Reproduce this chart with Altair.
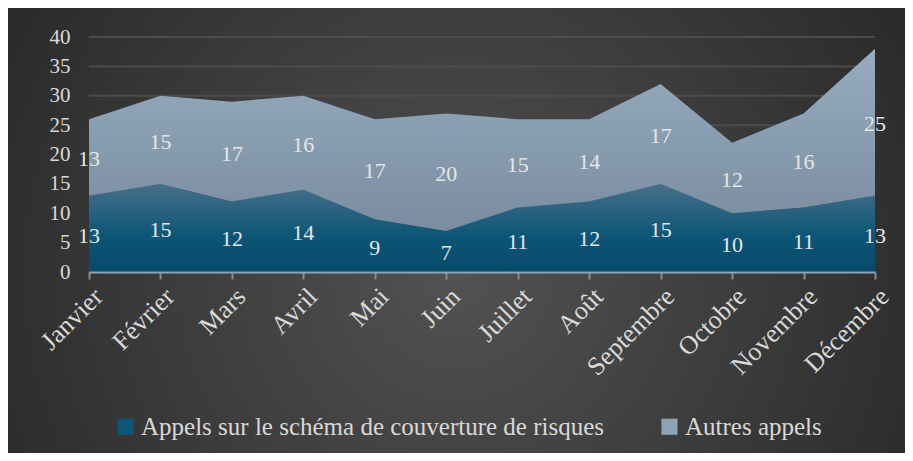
import altair as alt
import pandas as pd

months = ["Janvier", "Février", "Mars", "Avril", "Mai", "Juin", "Juillet",
          "Août", "Septembre", "Octobre", "Novembre", "Décembre"]
risques = [13, 15, 12, 14, 9, 7, 11, 12, 15, 10, 11, 13]
autres = [13, 15, 17, 16, 17, 20, 15, 14, 17, 12, 16, 25]
series = ["Appels sur le schéma de couverture de risques", "Autres appels"]
y_ticks = [0, 5, 10, 15, 20, 25, 30, 35, 40]

FONT = "Liberation Serif"
TXT = "#d9d9d9"
W, H = 786, 235
PAD = {"left": 81, "top": 29, "right": 30, "bottom": 181}

wide = pd.DataFrame({"mois": months, "risques": risques, "autres": autres})
long = pd.DataFrame({"serie": series})

xax = alt.Axis(title=None, labelAngle=-45, labelFontSize=26,
               labelColor=TXT, labelFont=FONT, labelPadding=4,
               labelOverlap=False,
               tickColor="#8c8c8c", tickSize=7, tickWidth=2,
               domainColor="#8fa6b9", domainWidth=2, grid=False,
               zindex=1)
yax = alt.Axis(title=None, values=y_ticks, grid=False,
               domain=False, ticks=False, labelFontSize=21,
               labelColor=TXT, labelFont=FONT,
               labelOverlap=False,
               labelPadding=19, zindex=1)
xscale = alt.Scale(padding=0)
yscale = alt.Scale(domain=[0, 40])


def X():
    return alt.X("mois:N", sort=months, scale=xscale, axis=xax)


bg = alt.Chart(alt.Data(values=[{}])).mark_rect(
    fill={"gradient": "radial", "x1": 0.5, "y1": 0.55, "r1": 0,
          "x2": 0.5, "y2": 0.55, "r2": 0.75,
          "stops": [{"offset": 0, "color": "#525252"},
                    {"offset": 1, "color": "#1e1e1e"}]}
).encode(x=alt.value(-PAD["left"]), x2=alt.value(W + PAD["right"]),
         y=alt.value(-PAD["top"]), y2=alt.value(H + PAD["bottom"]))

grid = alt.Chart(pd.DataFrame({"v": y_ticks[1:]})).mark_rule(
    color="#4c4c4c", strokeWidth=2
).encode(y=alt.Y("v:Q", scale=yscale, axis=yax),
         x=alt.value(0), x2=alt.value(W))

base = alt.Chart(wide)

area_r = base.mark_area(
    fill={"gradient": "linear", "x1": 0, "y1": 0, "x2": 0, "y2": 1,
          "stops": [{"offset": 0, "color": "#46708a"},
                    {"offset": 0.6, "color": "#0c5576"},
                    {"offset": 1, "color": "#064a69"}]}
).encode(x=X(), y=alt.Y("risques:Q", scale=yscale, axis=yax))

area_a = base.transform_calculate(total="datum.risques + datum.autres").mark_area(
    fill={"gradient": "linear", "x1": 0, "y1": 0, "x2": 0, "y2": 1,
          "stops": [{"offset": 0, "color": "#97acbf"},
                    {"offset": 1, "color": "#7a8da0"}]}
).encode(x=X(), y=alt.Y("total:Q", scale=yscale, axis=yax), y2="risques:Q")

lab_r = base.transform_calculate(pos="datum.risques / 2").mark_text(
    font=FONT, fontSize=22, color="#e6e6e6", dy=2
).encode(x=X(), y=alt.Y("pos:Q", scale=yscale, axis=yax), text="risques:Q")

lab_a = base.transform_calculate(pos="datum.risques + datum.autres / 2").mark_text(
    font=FONT, fontSize=22, color="#e6e6e6", dy=2
).encode(x=X(), y=alt.Y("pos:Q", scale=yscale, axis=yax), text="autres:Q")

legend_layer = alt.Chart(long).mark_square(opacity=0, size=1).encode(
    color=alt.Color("serie:N", sort=series,
                    scale=alt.Scale(domain=series, range=["#0e5677", "#8da3b6"]),
                    legend=alt.Legend(title=None, orient="none", direction="horizontal",
                                      legendX=24, legendY=377,
                                      symbolType="square", symbolSize=260,
                                      symbolOpacity=1, symbolStrokeWidth=0,
                                      labelFont=FONT, labelFontSize=25,
                                      labelColor=TXT, columnPadding=52,
                                      labelOffset=3, labelLimit=0))
)

chart = alt.layer(bg, grid, area_r, area_a, lab_r, lab_a, legend_layer).properties(
    width=W, height=H, padding=PAD,
    autosize=alt.AutoSizeParams(type="none"),
    background="#2a2a2a"
).configure_view(stroke=None)

chart.save("out.html", embed_options={"renderer": "svg", "actions": False})
